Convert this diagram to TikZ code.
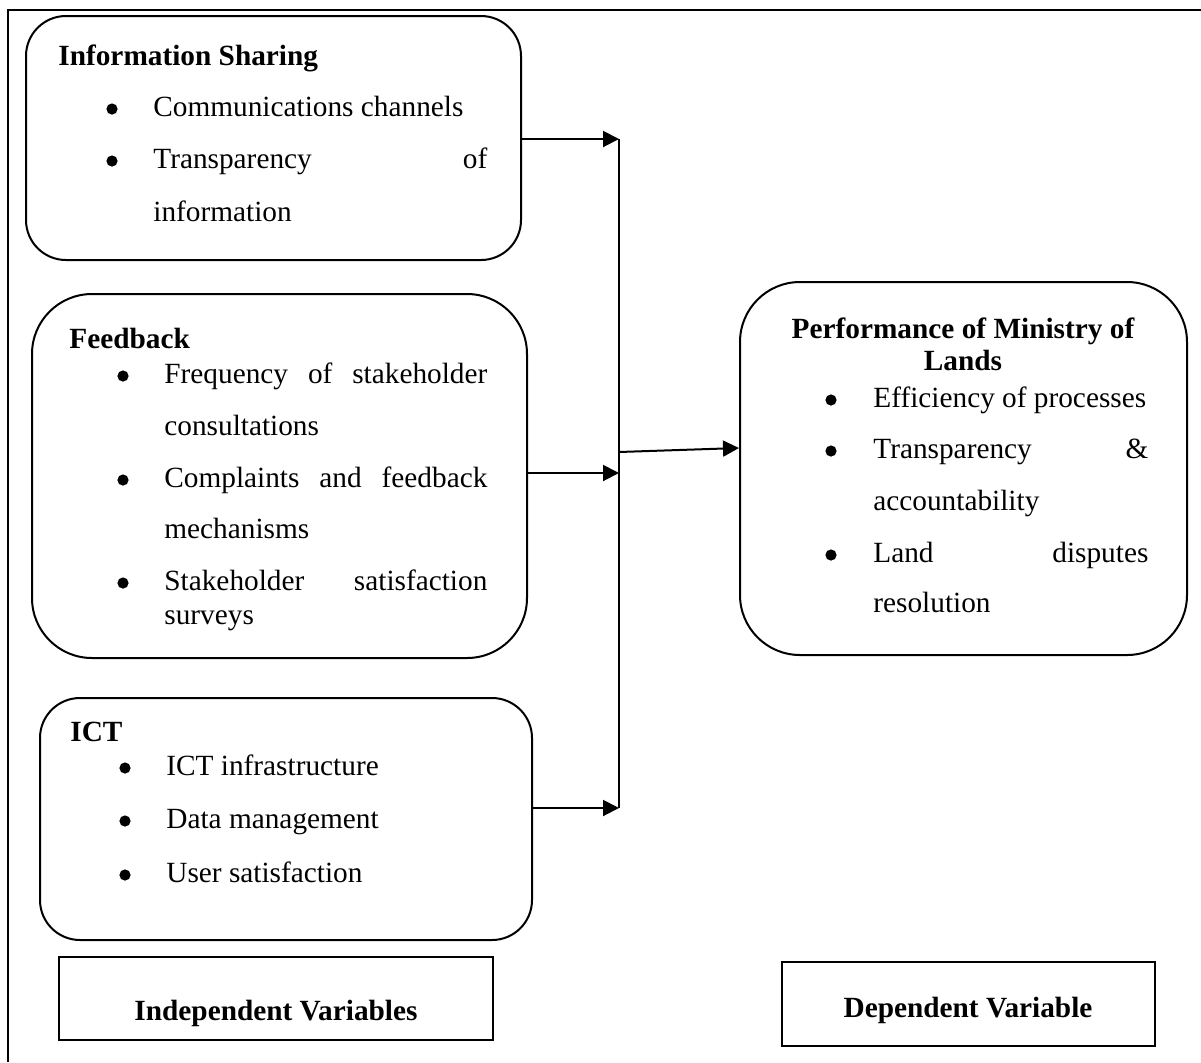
\documentclass[tikz,border=0pt]{standalone}
\usepackage{fontspec}
\setmainfont{Liberation Serif}
\usetikzlibrary{arrows.meta}
\tikzset{
  rbox/.style={draw, line width=1pt, inner sep=0pt},
  sbox/.style={draw, line width=1pt, inner sep=0pt},
  txt/.style={inner sep=0pt, anchor=base west},
  ttl/.style={inner sep=0pt, anchor=base west, font=\bfseries},
  ctr/.style={inner sep=0pt, anchor=base},
  bul/.style={circle, fill=black, inner sep=0pt, minimum size=5.6pt},
  arr/.style={line width=1pt, -{Triangle[length=8pt,width=8pt]}},
}
\begin{document}
\begin{tikzpicture}[x=0.5pt,y=-0.5pt]
\fontsize{14.65}{17}\selectfont
\useasboundingbox (0,0) rectangle (1201,1062);
% outer frame (top and left visible)
\draw[line width=1.2pt] (8,1062) -- (8,10) -- (1201,10);

% boxes
\node[rbox, rounded corners=20pt, minimum width=247.5pt, minimum height=122pt] (box1) at (273.5,138) {};
\node[rbox, rounded corners=30pt, minimum width=247.5pt, minimum height=182pt] (box2) at (279.5,476) {};
\node[rbox, rounded corners=20pt, minimum width=246pt, minimum height=121pt] (box3) at (286,819) {};
\node[rbox, rounded corners=30pt, minimum width=223.5pt, minimum height=186.5pt] (box4) at (963.5,468.5) {};
\node[sbox, minimum width=217pt, minimum height=41.5pt] (indep) at (276,998.5) {};
\node[sbox, minimum width=186.5pt, minimum height=42pt] (dep) at (968.5,1004) {};

% box1 text
\node[ttl] (t1) at (58,65) {Information Sharing};
\node[bul] (b11) at (112,109) {};
\node[txt] (t11) at (153,116) {Communications channels};
\node[bul] (b12) at (112,161) {};
\node[txt] (t12) at (153,168) {\makebox[167pt][s]{Transparency of}};
\node[txt] (t13) at (153,221) {information};

% box2 text
\node[ttl] (t2) at (69,348) {Feedback};
\node[bul] (b21) at (123,376) {};
\node[txt] (t21) at (164,383) {\makebox[161.5pt][s]{Frequency of stakeholder}};
\node[txt] (t22) at (164,435) {consultations};
\node[bul] (b22) at (123,480) {};
\node[txt] (t23) at (164,487) {\makebox[161.5pt][s]{Complaints and feedback}};
\node[txt] (t24) at (164,538) {mechanisms};
\node[bul] (b23) at (123,583) {};
\node[txt] (t25) at (164,590) {\makebox[161.5pt][s]{Stakeholder satisfaction}};
\node[txt] (t26) at (164,624) {surveys};

% box3 text
\node[ttl] (t3) at (70,741) {ICT};
\node[bul] (b31) at (125,768) {};
\node[txt] (t31) at (166,775) {ICT infrastructure};
\node[bul] (b32) at (125,821) {};
\node[txt] (t32) at (166,828) {Data management};
\node[bul] (b33) at (125,875) {};
\node[txt] (t33) at (166,882) {User satisfaction};

% box4 text
\node[ctr, font=\bfseries] (t4a) at (963,338) {Performance of Ministry of};
\node[ctr, font=\bfseries] (t4b) at (963,370) {Lands};
\node[bul] (b41) at (831,400) {};
\node[txt] (t41) at (873,407) {Efficiency of processes};
\node[bul] (b42) at (831,451) {};
\node[txt] (t42) at (873,458) {\makebox[137.5pt][s]{Transparency \&}};
\node[txt] (t43) at (873,510) {accountability};
\node[bul] (b43) at (831,555) {};
\node[txt] (t44) at (873,562) {\makebox[137.5pt][s]{Land disputes}};
\node[txt] (t45) at (873,612) {resolution};

% labels
\node[ctr, font=\bfseries] (ti) at (276,1020) {Independent Variables};
\node[ctr, font=\bfseries] (td) at (968,1017) {Dependent Variable};

% connectors
\coordinate (v1) at (619,139);
\coordinate (v2) at (619,473);
\coordinate (v3) at (619,808);
\coordinate (vm) at (619,452);
\draw[line width=0.6pt] (v1) -- (v3);
\draw[arr] (box1.east |- v1) -- (v1);
\draw[arr] (box2.east |- v2) -- (v2);
\draw[arr] (box3.east |- v3) -- (v3);
\draw[arr] (vm) -- (box4.west |- 0,448);
\end{tikzpicture}
\end{document}
